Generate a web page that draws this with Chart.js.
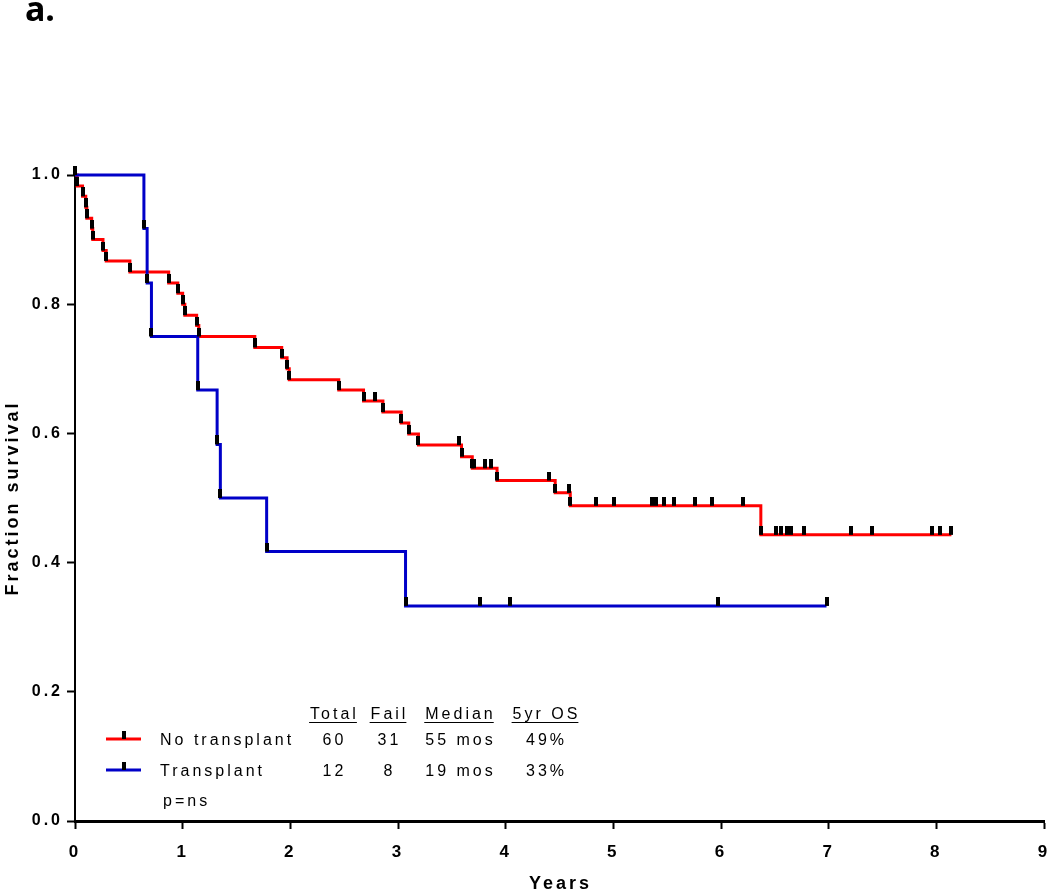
<!DOCTYPE html>
<html>
<head>
<meta charset="utf-8">
<script src="https://cdn.jsdelivr.net/npm/chart.js@4"></script>
<style>
  html, body { margin: 0; padding: 0; background: #fff; }
  canvas { display: block; }
</style>
</head>
<body>
<canvas id="km" width="1050" height="892"></canvas>
<script>
// No transplant (n=60): step times in years, survival after each step
const noTxTimes = [0, 0.02, 0.07, 0.10, 0.11, 0.155, 0.165, 0.26, 0.29, 0.51, 0.87, 0.955, 1.00, 1.02, 1.13, 1.15,
  1.67, 1.92, 1.97, 1.99, 2.45, 2.68, 2.86, 3.03, 3.10, 3.19, 3.59, 3.69, 3.92, 4.46, 4.60, 6.37, 8.14];
const noTxSurv = [1.0, 0.983, 0.967, 0.950, 0.933, 0.917, 0.900, 0.883, 0.867, 0.850, 0.833, 0.817, 0.800, 0.783, 0.767, 0.750,
  0.733, 0.717, 0.700, 0.683, 0.667, 0.650, 0.633, 0.616, 0.599, 0.582, 0.564, 0.546, 0.527, 0.508, 0.488, 0.443, 0.443];
const noTxCensored = [2.79, 3.57, 3.71, 3.81, 3.86, 4.40, 4.59, 4.84, 5.01, 5.36, 5.40, 5.47, 5.56, 5.76, 5.92, 6.20,
  6.51, 6.56, 6.61, 6.65, 6.77, 7.21, 7.40, 7.96, 8.03];

// Transplant (n=12)
const txTimes = [0, 0.64, 0.67, 0.71, 1.14, 1.32, 1.35, 1.78, 3.07, 6.98];
const txSurv = [1.0, 0.917, 0.833, 0.750, 0.667, 0.583, 0.500, 0.417, 0.333, 0.333];
const txCensored = [3.76, 4.04, 5.97];

// summary table
const groupNames = ['No transplant', 'Transplant'];
const groupColors = ['#ff0000', '#0000c8'];
const tableHeaders = ['Total', 'Fail', 'Median', '5yr OS'];
const totals = ['60', '12'];
const fails = ['31', '8'];
const medians = ['55 mos', '19 mos'];
const os5yr = ['49%', '33%'];
const pValueText = 'p=ns';

const panelLabel = 'a.';
const xTitle = 'Years';
const yTitle = 'Fraction survival';

// survival value at time t (read from the step arrays)
function survAt(times, surv, t) {
  let s = surv[0];
  for (let i = 0; i < times.length; i++) if (times[i] <= t) s = surv[i];
  return s;
}
const toPoints = (times, surv) => times.map((t, i) => ({ x: t, y: surv[i] }));
const censorPoints = (times, surv, cens) => cens.map(t => ({ x: t, y: survAt(times, surv, t) }));

// little black tick that sits on top of each point
function makeTick() {
  const c = document.createElement('canvas');
  c.width = 4; c.height = 18;
  const g = c.getContext('2d');
  g.fillStyle = '#000';
  g.fillRect(0, 0, 4, 9);
  return c;
}
const tick = makeTick();

const lineDs = (label, pts, color) => ({
  label, data: pts, borderColor: color, borderWidth: 3, stepped: 'before',
  pointRadius: 0, fill: false, clip: false, order: 2
});
const tickDs = (label, pts) => ({
  label, data: pts, showLine: false, pointStyle: tick, pointRadius: 5,
  clip: false, order: 1
});

const SPACING = 3;

const overlay = {
  id: 'overlay',
  beforeDraw(chart) {
    chart.ctx.letterSpacing = SPACING + 'px';
  },
  afterDraw(chart) {
    const ctx = chart.ctx;
    const area = chart.chartArea;
    ctx.save();
    ctx.fillStyle = '#000';
    ctx.strokeStyle = '#000';

    // panel label
    ctx.letterSpacing = '0px';
    ctx.font = 'bold 34px "Noto Sans", "Liberation Sans", sans-serif';
    ctx.textAlign = 'left';
    ctx.textBaseline = 'alphabetic';
    ctx.fillText(panelLabel, 25, 21);

    // axis titles
    ctx.letterSpacing = '3px';
    ctx.font = 'bold 18px "Liberation Sans", Arial, sans-serif';
    ctx.textAlign = 'center';
    ctx.textBaseline = 'middle';
    ctx.fillText(xTitle, (area.left + area.right) / 2 + 1, 884);
    ctx.save();
    ctx.translate(13, (area.top + area.bottom) / 2);
    ctx.rotate(-Math.PI / 2);
    ctx.fillText(yTitle, 0, 0);
    ctx.restore();

    // summary table
    const cols = [333, 388, 459, 545];
    ctx.font = '16px "Liberation Sans", Arial, sans-serif';
    ctx.letterSpacing = SPACING + 'px';
    ctx.textBaseline = 'alphabetic';
    ctx.textAlign = 'center';
    ctx.lineWidth = 1;
    tableHeaders.forEach((h, i) => {
      const w = ctx.measureText(h).width - SPACING;
      ctx.fillText(h, cols[i] + SPACING / 2, 719);
      ctx.beginPath();
      ctx.moveTo(cols[i] - w / 2 - 1, 722.5);
      ctx.lineTo(cols[i] + w / 2 + 1, 722.5);
      ctx.stroke();
    });
    const rowsY = [745, 776];
    groupNames.forEach((name, r) => {
      const y = rowsY[r];
      // swatch
      ctx.strokeStyle = groupColors[r];
      ctx.lineWidth = 3;
      ctx.beginPath();
      ctx.moveTo(106, y - 6);
      ctx.lineTo(141, y - 6);
      ctx.stroke();
      ctx.fillStyle = '#000';
      ctx.fillRect(122, y - 14, 4, 8);
      ctx.textAlign = 'left';
      ctx.fillText(name, 160, y);
      ctx.textAlign = 'center';
      [totals[r], fails[r], medians[r], os5yr[r]].forEach((v, i) => {
        ctx.fillText(v, cols[i] + SPACING / 2, y);
      });
    });
    ctx.textAlign = 'left';
    ctx.fillText(pValueText, 163, 806);
    ctx.restore();
  }
};

new Chart(document.getElementById('km'), {
  type: 'line',
  data: {
    datasets: [
      lineDs(groupNames[1], toPoints(txTimes, txSurv), groupColors[1]),
      lineDs(groupNames[0], toPoints(noTxTimes, noTxSurv), groupColors[0]),
      tickDs('tx ticks', toPoints(txTimes, txSurv).concat(censorPoints(txTimes, txSurv, txCensored))),
      tickDs('no tx ticks', toPoints(noTxTimes, noTxSurv).concat(censorPoints(noTxTimes, noTxSurv, noTxCensored)))
    ]
  },
  options: {
    responsive: false,
    animation: false,
    devicePixelRatio: 1,
    layout: { padding: { left: 0, top: 175, right: 5, bottom: 0 } },
    plugins: { legend: { display: false }, tooltip: { enabled: false } },
    scales: {
      x: {
        type: 'linear', min: 0, max: 9,
        ticks: {
          stepSize: 1, color: '#000', padding: 13,
          font: { family: '"Liberation Sans Narrow", "Liberation Sans", Arial', size: 17, weight: 'bold' }
        },
        grid: { drawOnChartArea: false, drawTicks: true, tickLength: 8, tickWidth: 2, tickColor: '#000' },
        border: { color: '#000', width: 3 },
        afterFit: s => { s.height = 71; s.paddingLeft = 0; s.paddingRight = 0; }
      },
      y: {
        type: 'linear', min: 0, max: 1,
        ticks: {
          stepSize: 0.2, color: '#000', padding: 4,
          font: { family: '"Liberation Sans", Arial', size: 16, weight: 'bold' },
          callback: v => Number(v).toFixed(1)
        },
        grid: { drawOnChartArea: false, drawTicks: true, tickLength: 8, tickWidth: 2, tickColor: '#000' },
        border: { color: '#000', width: 2 },
        afterFit: s => { s.width = 75; s.paddingTop = 0; s.paddingBottom = 0; }
      }
    }
  },
  plugins: [overlay]
});
</script>
</body>
</html>
